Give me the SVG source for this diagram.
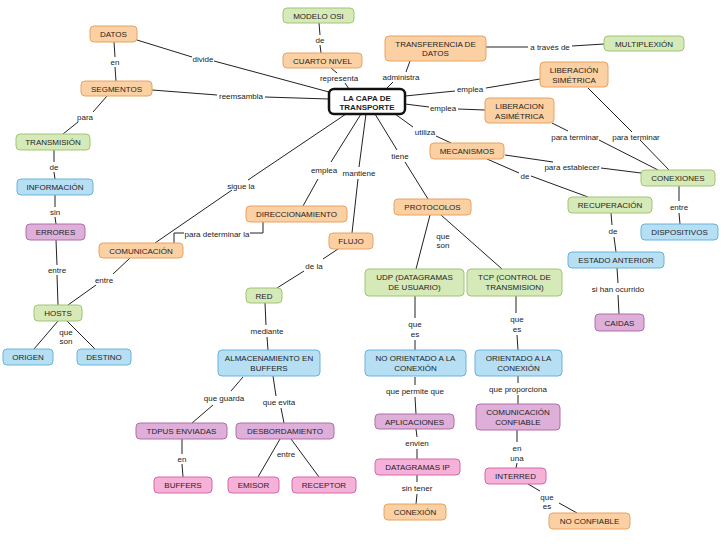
<svg xmlns="http://www.w3.org/2000/svg" width="728" height="546" viewBox="0 0 728 546">
<style>
text{font-family:"Liberation Sans",Arial,sans-serif;font-size:8px;fill:#1e1e1e}
.t{text-anchor:middle}
.l{text-anchor:middle;font-size:8px;fill:#222}
.o{fill:#fbd0a2;stroke:#e8a262;stroke-width:1}
.g{fill:#d6e9b8;stroke:#a0c577;stroke-width:1}
.b{fill:#b6dff4;stroke:#66b3dd;stroke-width:1}
.p{fill:#deb0d9;stroke:#b06fa8;stroke-width:1}
.k{fill:#f6b1d9;stroke:#d767a9;stroke-width:1}
.c{fill:#ffffff;stroke:#111;stroke-width:2.5}
.cb{font-weight:bold}
#connectors path{fill:none;stroke:#222;stroke-width:1}
</style>
<rect width="728" height="546" fill="#ffffff"/>
<g id="connectors">
<path d="M137,40 L192,57 M214,61 L329,92"/>
<path d="M114,42 L115,57 M115,67 L116,81"/>
<path d="M152,90 L217,95 M265,97 L329,99"/>
<path d="M107,96 L93,112 M78,122 L63,134"/>
<path d="M54,150 L54,162 M54,172 L55,179"/>
<path d="M55,195 L55,207 M55,217 L56,224"/>
<path d="M56,240 L57,265 M57,275 L58,305"/>
<path d="M130,258 L113,274 M96,285 L68,305"/>
<path d="M58,321 L34,349 M67,321 L95,349"/>
<path d="M155,243 L232,190 M248,180 L346,114"/>
<path d="M174,243 L174,233 L184,233 M250,233 L263,233 L263,222"/>
<path d="M303,206 L318,179 M331,162 L361,114"/>
<path d="M366,114 L359,167 M358,179 L352,233"/>
<path d="M375,114 L397,150 M405,162 L428,199"/>
<path d="M395,114 L413,127 M436,136 L451,143"/>
<path d="M331,68 L337,73 M345,83 L349,89"/>
<path d="M319,23 L320,35 M320,45 L321,53"/>
<path d="M386,89 L393,82 M406,72 L410,61"/>
<path d="M486,47 L528,47 M572,46 L604,44"/>
<path d="M405,96 L455,91 M486,88 L540,79"/>
<path d="M405,104 L429,107 M458,109 L485,110"/>
<path d="M552,123 L568,131 M599,140 L658,170"/>
<path d="M588,88 L632,132 M640,140 L669,170"/>
<path d="M505,155 L553,162 M601,168 L641,173"/>
<path d="M487,159 L519,173 M531,176 L588,197"/>
<path d="M679,186 L679,201 M679,213 L680,224"/>
<path d="M611,213 L612,225 M614,237 L616,252"/>
<path d="M617,268 L618,283 M618,295 L619,314"/>
<path d="M430,215 L416,269 M441,215 L502,269"/>
<path d="M338,249 L323,259 M304,271 L277,288"/>
<path d="M265,303 L266,325 M267,337 L268,350"/>
<path d="M243,377 L231,391 M213,405 L192,423"/>
<path d="M273,376 L276,396 M281,408 L284,423"/>
<path d="M182,439 L182,454 M182,464 L183,477"/>
<path d="M280,439 L258,477 M291,439 L319,477"/>
<path d="M415,296 L415,318 M415,340 L415,350"/>
<path d="M516,296 L516,313 M517,335 L518,350"/>
<path d="M415,377 L415,385 M415,397 L416,414"/>
<path d="M416,429 L417,437 M417,449 L417,459"/>
<path d="M417,475 L417,482 M417,494 L416,504"/>
<path d="M518,376 L518,383 M518,395 L518,404"/>
<path d="M517,430 L517,442 M517,463 L516,468"/>
<path d="M528,484 L540,491 M559,503 L577,513"/>
</g>
<g id="labels">
<text class="l" x="203" y="62">divide</text>
<text class="l" x="115" y="65">en</text>
<text class="l" x="241" y="99">reemsambla</text>
<text class="l" x="85" y="120">para</text>
<text class="l" x="54" y="170">de</text>
<text class="l" x="55" y="215">sin</text>
<text class="l" x="57" y="273">entre</text>
<text class="l" x="104" y="283">entre</text>
<text class="l" x="66" y="335">que</text>
<text class="l" x="66" y="344">son</text>
<text class="l" x="241" y="189">sigue la</text>
<text class="l" x="217" y="237">para determinar la</text>
<text class="l" x="324" y="173">emplea</text>
<text class="l" x="359" y="176">mantiene</text>
<text class="l" x="400" y="159">tiene</text>
<text class="l" x="425" y="135">utiliza</text>
<text class="l" x="339" y="81">representa</text>
<text class="l" x="320" y="43">de</text>
<text class="l" x="401" y="80">administra</text>
<text class="l" x="550" y="50">a través de</text>
<text class="l" x="470" y="92">emplea</text>
<text class="l" x="443" y="111">emplea</text>
<text class="l" x="575" y="140">para terminar</text>
<text class="l" x="636" y="140">para terminar</text>
<text class="l" x="572" y="170">para establecer</text>
<text class="l" x="525" y="179">de</text>
<text class="l" x="679" y="210">entre</text>
<text class="l" x="613" y="234">de</text>
<text class="l" x="618" y="292">si han ocurrido</text>
<text class="l" x="443" y="239">que</text>
<text class="l" x="443" y="248">son</text>
<text class="l" x="314" y="269">de la</text>
<text class="l" x="267" y="334">mediante</text>
<text class="l" x="224" y="401">que guarda</text>
<text class="l" x="279" y="405">que evita</text>
<text class="l" x="182" y="462">en</text>
<text class="l" x="286" y="457">entre</text>
<text class="l" x="415" y="327">que</text>
<text class="l" x="415" y="337">es</text>
<text class="l" x="517" y="322">que</text>
<text class="l" x="517" y="332">es</text>
<text class="l" x="415" y="394">que permite que</text>
<text class="l" x="417" y="446">envien</text>
<text class="l" x="417" y="491">sin tener</text>
<text class="l" x="518" y="392">que proporciona</text>
<text class="l" x="517" y="451">en</text>
<text class="l" x="517" y="461">una</text>
<text class="l" x="547" y="500">que</text>
<text class="l" x="547" y="509">es</text>
</g>
<g id="datos"><rect class="o" x="90" y="26" width="47" height="16" rx="4"/><text class="t" x="113.5" y="37">DATOS</text></g>
<g id="segmentos"><rect class="o" x="81" y="81" width="71" height="15" rx="4"/><text class="t" x="116.5" y="91.5">SEGMENTOS</text></g>
<g id="transmision"><rect class="g" x="16" y="134" width="74" height="16" rx="4"/><text class="t" x="53" y="145">TRANSMISIÓN</text></g>
<g id="informacion"><rect class="b" x="17" y="179" width="76" height="16" rx="4"/><text class="t" x="55" y="190">INFORMACIÓN</text></g>
<g id="errores"><rect class="p" x="26" y="224" width="59" height="16" rx="4"/><text class="t" x="55.5" y="235">ERRORES</text></g>
<g id="comunicacion"><rect class="o" x="99" y="243" width="84" height="15" rx="4"/><text class="t" x="141" y="253.5">COMUNICACIÓN</text></g>
<g id="hosts"><rect class="g" x="34" y="305" width="48" height="16" rx="4"/><text class="t" x="58" y="316">HOSTS</text></g>
<g id="origen"><rect class="b" x="3" y="349" width="50" height="16" rx="4"/><text class="t" x="28" y="360">ORIGEN</text></g>
<g id="destino"><rect class="b" x="77" y="349" width="54" height="16" rx="4"/><text class="t" x="104" y="360">DESTINO</text></g>
<g id="modelo-osi"><rect class="g" x="283" y="8" width="71" height="15" rx="4"/><text class="t" x="318.5" y="18.5">MODELO OSI</text></g>
<g id="cuarto-nivel"><rect class="o" x="283" y="53" width="79" height="15" rx="4"/><text class="t" x="322.5" y="63.5">CUARTO NIVEL</text></g>
<g id="transferencia-de-datos"><rect class="o" x="385" y="36" width="101" height="25" rx="4"/><text class="t" x="435.5" y="47">TRANSFERENCIA DE</text><text class="t" x="435.5" y="56">DATOS</text></g>
<g id="la-capa-de-transporte"><rect class="c" x="329" y="89" width="76" height="25" rx="5"/><text class="t cb" x="367" y="100.5">LA CAPA DE</text><text class="t cb" x="367" y="109.5">TRANSPORTE</text></g>
<g id="multiplexion"><rect class="g" x="604" y="36" width="80" height="15" rx="4"/><text class="t" x="644" y="46.5">MULTIPLEXIÓN</text></g>
<g id="liberacion-simetrica"><rect class="o" x="540" y="62" width="68" height="25" rx="4"/><text class="t" x="574" y="73">LIBERACIÓN</text><text class="t" x="574" y="83">SIMÉTRICA</text></g>
<g id="liberacion-asimetrica"><rect class="o" x="485" y="98" width="69" height="25" rx="4"/><text class="t" x="519.5" y="109">LIBERACION</text><text class="t" x="519.5" y="119">ASIMÉTRICA</text></g>
<g id="mecanismos"><rect class="o" x="430" y="143" width="74" height="16" rx="4"/><text class="t" x="467" y="154">MECANISMOS</text></g>
<g id="direccionamiento"><rect class="o" x="246" y="206" width="101" height="16" rx="4"/><text class="t" x="296.5" y="217">DIRECCIONAMIENTO</text></g>
<g id="flujo"><rect class="o" x="329" y="233" width="44" height="16" rx="4"/><text class="t" x="351" y="244">FLUJO</text></g>
<g id="protocolos"><rect class="o" x="394" y="199" width="77" height="16" rx="4"/><text class="t" x="432.5" y="210">PROTOCOLOS</text></g>
<g id="conexiones"><rect class="g" x="641" y="170" width="74" height="16" rx="4"/><text class="t" x="678" y="181">CONEXIONES</text></g>
<g id="recuperacion"><rect class="g" x="568" y="197" width="84" height="16" rx="4"/><text class="t" x="610" y="208">RECUPERACIÓN</text></g>
<g id="dispositivos"><rect class="b" x="641" y="224" width="77" height="16" rx="4"/><text class="t" x="679.5" y="235">DISPOSITIVOS</text></g>
<g id="estado-anterior"><rect class="b" x="568" y="252" width="96" height="16" rx="4"/><text class="t" x="616" y="263">ESTADO ANTERIOR</text></g>
<g id="caidas"><rect class="p" x="595" y="314" width="49" height="17" rx="4"/><text class="t" x="619.5" y="325.5">CAIDAS</text></g>
<g id="red"><rect class="g" x="246" y="288" width="36" height="15" rx="4"/><text class="t" x="264" y="298.5">RED</text></g>
<g id="almacenamiento-en-buffers"><rect class="b" x="218" y="350" width="102" height="26" rx="4"/><text class="t" x="269" y="361">ALMACENAMIENTO EN</text><text class="t" x="269" y="371">BUFFERS</text></g>
<g id="udp"><rect class="g" x="365" y="269" width="99" height="27" rx="4"/><text class="t" x="414.5" y="280">UDP (DATAGRAMAS</text><text class="t" x="414.5" y="290">DE USUARIO)</text></g>
<g id="tcp"><rect class="g" x="467" y="269" width="95" height="27" rx="4"/><text class="t" x="514.5" y="280">TCP (CONTROL DE</text><text class="t" x="514.5" y="290">TRANSMISION)</text></g>
<g id="no-orientado"><rect class="b" x="365" y="350" width="101" height="26" rx="4"/><text class="t" x="415.5" y="361">NO ORIENTADO A LA</text><text class="t" x="415.5" y="371">CONEXIÓN</text></g>
<g id="orientado"><rect class="b" x="475" y="350" width="87" height="26" rx="4"/><text class="t" x="518.5" y="361">ORIENTADO A LA</text><text class="t" x="518.5" y="371">CONEXIÓN</text></g>
<g id="tdpus-enviadas"><rect class="p" x="136" y="423" width="91" height="16" rx="4"/><text class="t" x="181.5" y="434">TDPUS ENVIADAS</text></g>
<g id="buffers"><rect class="k" x="154" y="477" width="58" height="16" rx="4"/><text class="t" x="183" y="488">BUFFERS</text></g>
<g id="desbordamiento"><rect class="p" x="236" y="423" width="98" height="16" rx="4"/><text class="t" x="285" y="434">DESBORDAMIENTO</text></g>
<g id="emisor"><rect class="k" x="228" y="477" width="51" height="16" rx="4"/><text class="t" x="253.5" y="488">EMISOR</text></g>
<g id="receptor"><rect class="k" x="292" y="477" width="64" height="16" rx="4"/><text class="t" x="324" y="488">RECEPTOR</text></g>
<g id="aplicaciones"><rect class="p" x="375" y="414" width="79" height="15" rx="4"/><text class="t" x="414.5" y="424.5">APLICACIONES</text></g>
<g id="datagramas-ip"><rect class="k" x="375" y="459" width="85" height="16" rx="4"/><text class="t" x="417.5" y="470">DATAGRAMAS IP</text></g>
<g id="conexion"><rect class="o" x="384" y="504" width="62" height="16" rx="4"/><text class="t" x="415" y="515">CONEXIÓN</text></g>
<g id="comunicacion-confiable"><rect class="p" x="476" y="404" width="84" height="26" rx="4"/><text class="t" x="518" y="415">COMUNICACIÓN</text><text class="t" x="518" y="425">CONFIABLE</text></g>
<g id="interred"><rect class="k" x="485" y="468" width="61" height="16" rx="4"/><text class="t" x="515.5" y="479">INTERRED</text></g>
<g id="no-confiable"><rect class="o" x="549" y="513" width="81" height="16" rx="4"/><text class="t" x="589.5" y="524">NO CONFIABLE</text></g>
</svg>
